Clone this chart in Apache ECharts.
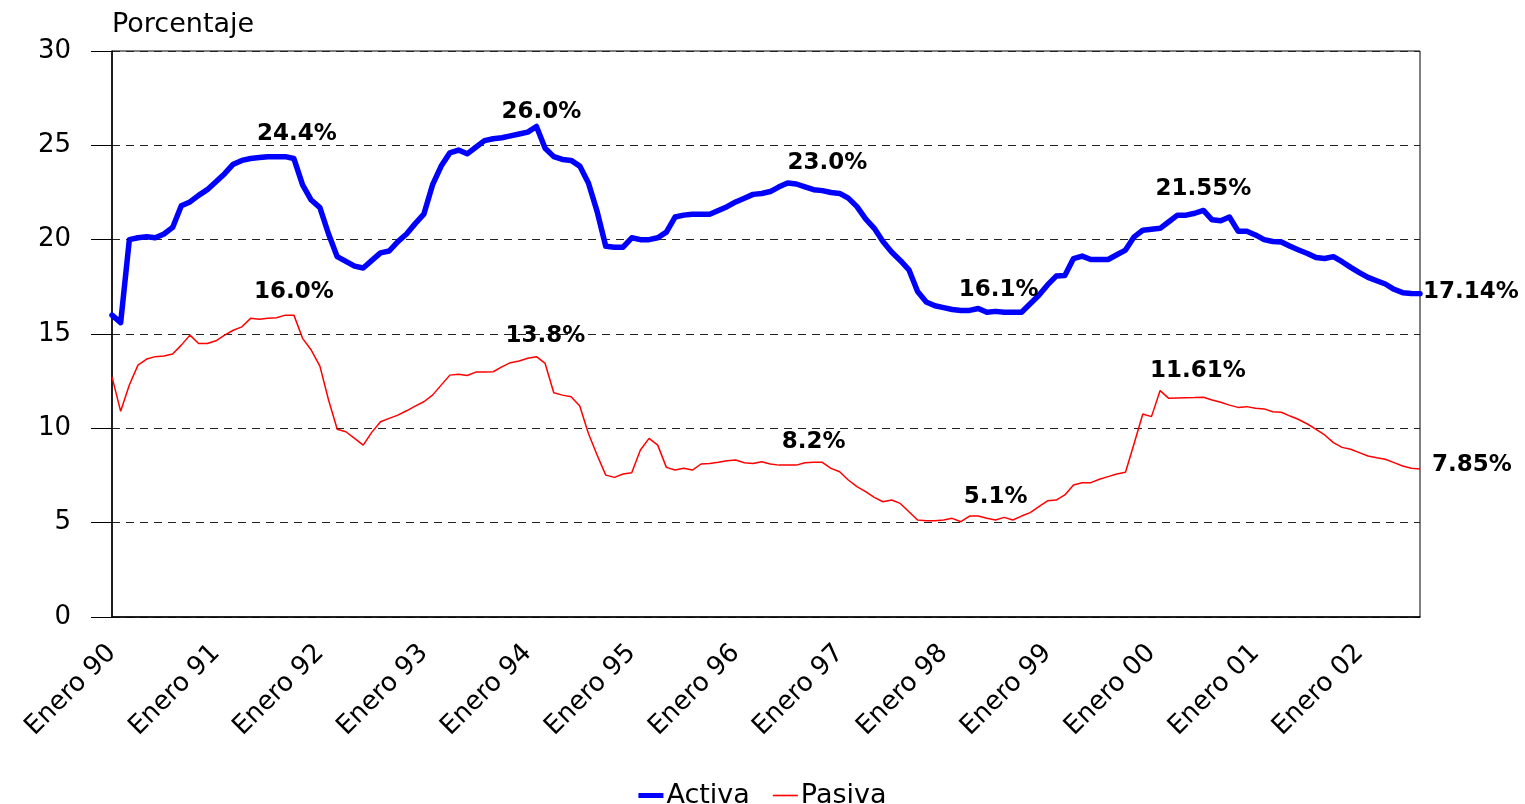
<!DOCTYPE html>
<html>
<head>
<meta charset="utf-8">
<script src="https://cdn.jsdelivr.net/npm/echarts@6/dist/echarts.min.js"></script>
<style>
html,body{margin:0;padding:0;background:#fff;}
#chart{width:1525px;height:804px;}
</style>
</head>
<body>
<div id="chart"></div>
<script>
// ---- Data (monthly, Enero 1990 .. Agosto 2002) ----
const years = ['90','91','92','93','94','95','96','97','98','99','00','01','02'];
const monthNames = ['Enero','Febrero','Marzo','Abril','Mayo','Junio','Julio','Agosto','Septiembre','Octubre','Noviembre','Diciembre'];

const activa = [
  16.0,15.6,20.0,20.1,20.15,20.1,20.3,20.65,21.8,22.0,22.35,22.65,
  23.07,23.5,24.0,24.2,24.3,24.35,24.4,24.4,24.4,24.3,22.9,22.1,
  21.7,20.3,19.1,18.85,18.6,18.5,18.9,19.3,19.4,19.9,20.3,20.85,
  21.35,22.9,23.9,24.6,24.75,24.55,24.9,25.25,25.35,25.4,25.5,25.6,
  25.7,26.0,24.85,24.4,24.25,24.2,23.9,23.0,21.5,19.65,19.6,19.6,
  20.1,20.0,20.0,20.1,20.4,21.2,21.3,21.35,21.35,21.35,21.55,21.75,
  22.0,22.2,22.4,22.45,22.55,22.8,23.0,22.95,22.8,22.65,22.6,22.5,
  22.45,22.2,21.75,21.1,20.6,19.9,19.35,18.9,18.4,17.25,16.7,16.5,
  16.4,16.3,16.25,16.25,16.35,16.15,16.2,16.15,16.15,16.15,16.6,17.05,
  17.6,18.07,18.1,19.0,19.13,18.95,18.95,18.95,19.2,19.45,20.15,20.5,
  20.55,20.6,20.95,21.3,21.3,21.4,21.55,21.05,21.0,21.2,20.45,20.45,
  20.25,20.0,19.9,19.88,19.65,19.45,19.27,19.05,19.0,19.1,18.83,18.53,
  18.25,18.0,17.82,17.65,17.37,17.19,17.15,17.14
];

const pasiva = [
  12.73,10.9,12.3,13.35,13.67,13.8,13.83,13.94,14.41,14.94,14.5,14.5,
  14.64,14.94,15.2,15.38,15.83,15.78,15.83,15.86,16.0,16.0,14.77,14.15,
  13.3,11.5,9.95,9.82,9.47,9.11,9.8,10.35,10.53,10.7,10.93,11.18,
  11.41,11.76,12.29,12.82,12.87,12.8,12.98,12.98,13.0,13.26,13.48,13.57,
  13.71,13.8,13.44,11.89,11.76,11.67,11.18,9.73,8.59,7.52,7.4,7.58,
  7.65,8.85,9.47,9.11,7.93,7.79,7.88,7.79,8.11,8.14,8.2,8.28,
  8.32,8.18,8.14,8.23,8.11,8.05,8.05,8.05,8.18,8.2,8.2,7.88,
  7.7,7.26,6.91,6.64,6.34,6.11,6.2,6.02,5.58,5.14,5.1,5.1,
  5.14,5.23,5.05,5.35,5.35,5.23,5.14,5.28,5.14,5.35,5.53,5.85,
  6.16,6.2,6.47,7.0,7.12,7.12,7.3,7.44,7.58,7.67,9.2,10.76,
  10.62,12.0,11.59,11.61,11.62,11.63,11.65,11.5,11.38,11.23,11.11,11.15,
  11.06,11.03,10.88,10.85,10.65,10.47,10.23,9.95,9.65,9.24,8.99,8.89,
  8.71,8.53,8.44,8.36,8.18,8.0,7.88,7.85
];

// Annotated values: [data index, text]
const annotActiva = [[21,'24.4%'],[49,'26.0%'],[82,'23.0%'],[102,'16.1%'],[126,'21.55%'],[151,'17.14%']];
const annotPasiva = [[21,'16.0%'],[49,'13.8%'],[81,'8.2%'],[102,'5.1%'],[125,'11.61%'],[151,'7.85%']];

// Categories built from year / month name lists
const categories = [];
years.forEach(function(y){ monthNames.forEach(function(m){ categories.push(m + ' ' + y); }); });
categories.length = activa.length;

const FONT = 'DejaVu Sans';

const chart = echarts.init(document.getElementById('chart'), null, {renderer:'canvas'});

const option = {
  animation: false,
  backgroundColor: '#ffffff',
  title: {
    text: 'Porcentaje',
    left: 107, top: 6,
    textStyle: {fontFamily: FONT, fontSize: 27, fontWeight: 'normal', color: '#000'}
  },
  legend: {
    left: 'center', top: 777,
    itemWidth: 25, itemHeight: 14, itemGap: 23,
    symbolKeepAspect: true,
    textStyle: {fontFamily: FONT, fontSize: 27, color: '#000', padding: [0,0,0,-2]},
    data: [
      {name: 'Activa', icon: 'path://M0,0L25,0L25,5L0,5Z'},
      {name: 'Pasiva', icon: 'path://M0,0L25,0L25,1.6L0,1.6Z'}
    ]
  },
  grid: {
    left: 112, right: 105, top: 51, bottom: 187,
    show: true, borderColor: '#000', borderWidth: 1, backgroundColor: '#fff'
  },
  xAxis: {
    type: 'category',
    data: categories,
    boundaryGap: false,
    axisLine: {show: true, lineStyle: {color: '#000', width: 1.5}},
    axisTick: {show: false},
    splitLine: {show: false},
    axisLabel: {
      interval: function(i){ return i % 12 === 0; },
      rotate: 45,
      margin: 32,
      fontFamily: FONT, fontSize: 26, color: '#000'
    }
  },
  yAxis: {
    type: 'value',
    min: 0, max: 30, interval: 5,
    axisLine: {show: true, lineStyle: {color: '#000', width: 1.5}},
    axisTick: {show: true, inside: false, length: 21, lineStyle: {color: '#000', width: 1}},
    axisLabel: {margin: 41, fontFamily: FONT, fontSize: 26, color: '#000'},
    splitLine: {show: true, lineStyle: {color: '#222', width: 1, type: [8, 6]}}
  },
  series: [
    {
      name: 'Activa', type: 'line', data: activa,
      symbol: 'none', smooth: false,
      lineStyle: {color: '#0000ff', width: 5.5, join: 'round', cap: 'round'},
      itemStyle: {color: '#0000ff'},
      z: 3
    },
    {
      name: 'Pasiva', type: 'line', data: pasiva,
      symbol: 'none', smooth: false,
      lineStyle: {color: '#ff0000', width: 1.5},
      itemStyle: {color: '#ff0000'},
      z: 2
    }
  ]
};
chart.setOption(option);

// Annotation offsets (pixel offsets from the data point, text anchor)
const offsA = {21:[3,-25,'center'],49:[5,-14,'center'],82:[5,-28,'center'],102:[3,-21,'center'],126:[0,-21,'center'],151:[3,-2,'left']};
const offsP = {21:[0,-23,'center'],49:[9,-21,'center'],81:[0,-20,'center'],102:[0,-23,'center'],125:[3,-27,'center'],151:[12,-4,'left']};

const texts = [];
function addAnnots(list, values, offs){
  list.forEach(function(a){
    const idx = a[0];
    const p = chart.convertToPixel({gridIndex: 0}, [idx, values[idx]]);
    const o = offs[idx];
    texts.push({
      type: 'text', x: p[0] + o[0], y: p[1] + o[1], z: 10,
      style: {text: a[1], fill: '#000', font: 'bold 23px "' + FONT + '"', align: o[2], verticalAlign: 'middle'}
    });
  });
}
addAnnots(annotActiva, activa, offsA);
addAnnots(annotPasiva, pasiva, offsP);
chart.setOption({graphic: texts});
</script>
</body>
</html>
